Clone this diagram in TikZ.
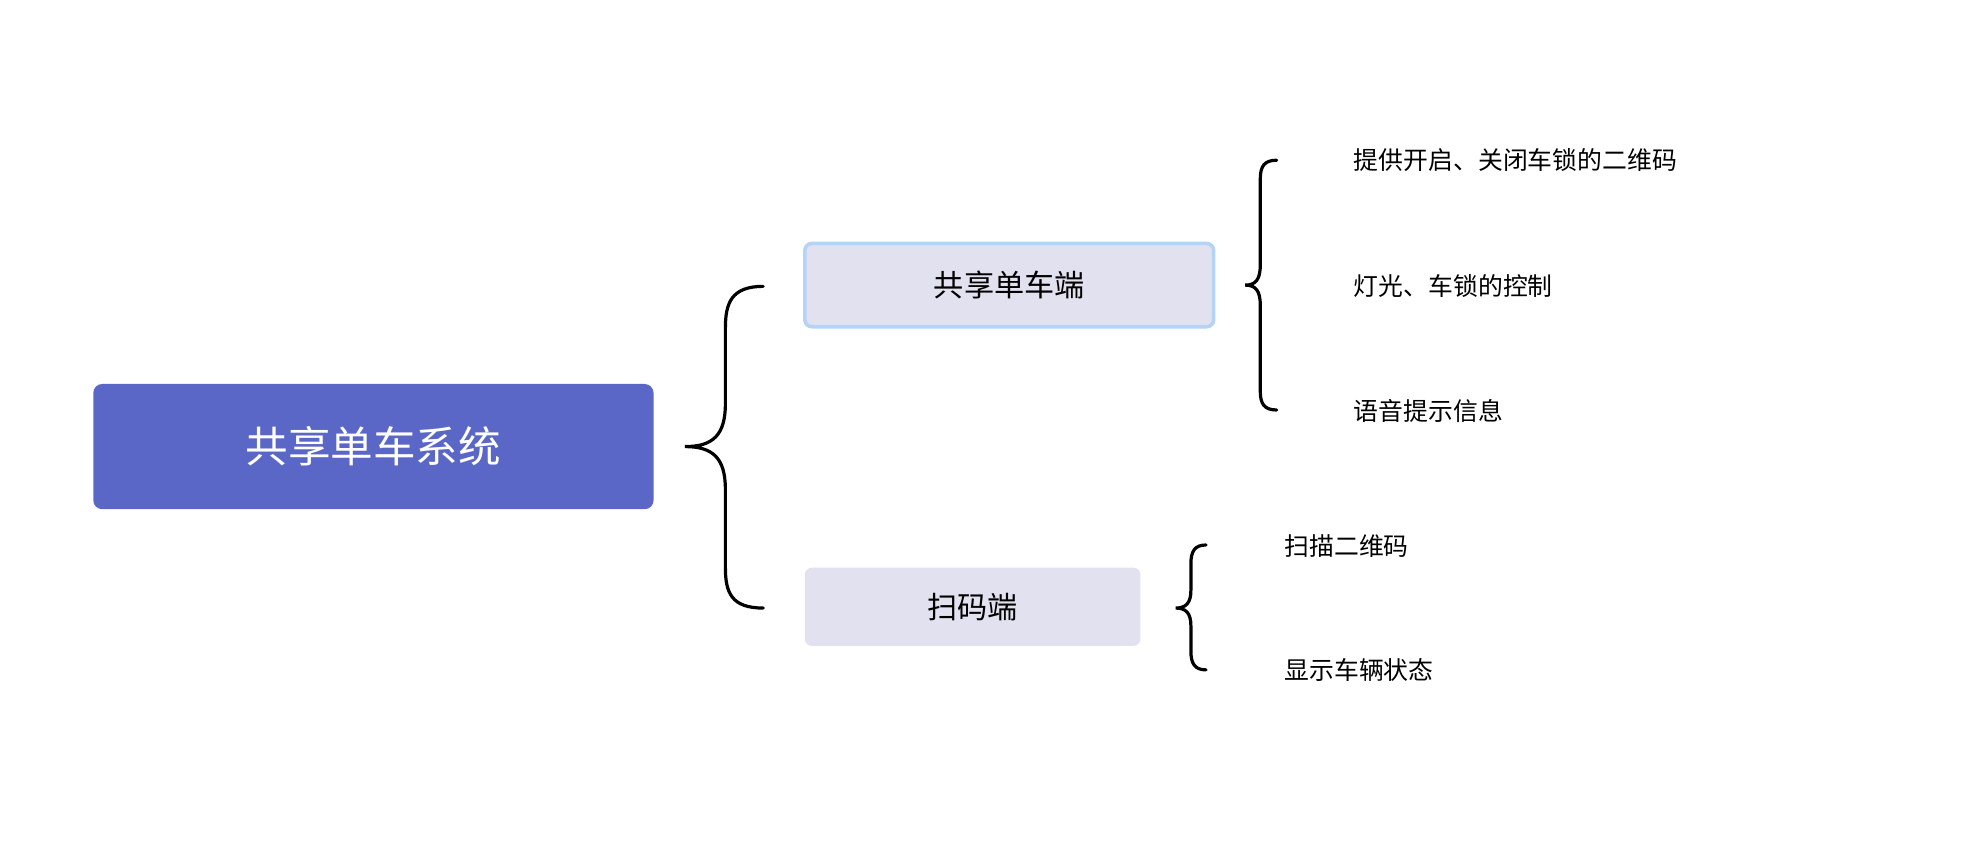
\documentclass[tikz,border=0pt]{standalone}
\usepackage{fontspec}
\setmainfont{Noto Sans CJK SC}
\usetikzlibrary{positioning}
\definecolor{rootblue}{HTML}{5B67C7}
\definecolor{boxgray}{HTML}{E1E1EF}
\definecolor{edgeblue}{HTML}{B3D4F5}
\tikzset{
  root/.style={rectangle, rounded corners=5pt, fill=rootblue, text=white, minimum width=11.1cm, minimum height=2.48cm, font=\fontsize{24}{28}\selectfont},
  mid/.style={rectangle, rounded corners=4pt, fill=boxgray, font=\fontsize{17}{20}\selectfont},
  leaf/.style={anchor=west, inner sep=0pt, font=\fontsize{14}{17}\selectfont},
  brace/.style={line width=1.8pt, line cap=round}
}
\begin{document}
\begin{tikzpicture}[x=0.025cm,y=-0.025cm]
\useasboundingbox (0,0) rectangle (1560,682);

\node[root] (sys) at (296,354) {共享单车系统};
\node[mid, draw=edgeblue, line width=2pt, minimum width=8.1cm, minimum height=1.65cm] (bike) at (800,226) {共享单车端};
\node[mid, minimum width=6.65cm, minimum height=1.55cm] (scan) at (771,481) {扫码端};

\node[leaf] (l1) at (1073,127) {提供开启、关闭车锁的二维码};
\node[leaf] (l2) at (1073,227) {灯光、车锁的控制};
\node[leaf] (l3) at (1073,326) {语音提示信息};
\node[leaf] (l4) at (1018,433) {扫描二维码};
\node[leaf] (l5) at (1018,531) {显示车辆状态};

% braces
\draw[brace] (605,227) .. controls (580,227) and (575,240) .. (575,260) -- (575,320)
  .. controls (575,345) and (565,354) .. (543,354)
  .. controls (565,354) and (575,363) .. (575,388) -- (575,450)
  .. controls (575,470) and (580,482) .. (605,482);
\draw[brace] (1012,127) .. controls (1002,127) and (999,132) .. (999,142) -- (999,210)
  .. controls (999,222) and (995,226) .. (987,226)
  .. controls (995,226) and (999,230) .. (999,242) -- (999,310)
  .. controls (999,320) and (1002,325) .. (1012,325);
\draw[brace] (956,432) .. controls (947,432) and (944,437) .. (944,447) -- (944,468)
  .. controls (944,478) and (940,482) .. (932,482)
  .. controls (940,482) and (944,486) .. (944,496) -- (944,516)
  .. controls (944,526) and (947,531) .. (956,531);
\end{tikzpicture}
\end{document}
